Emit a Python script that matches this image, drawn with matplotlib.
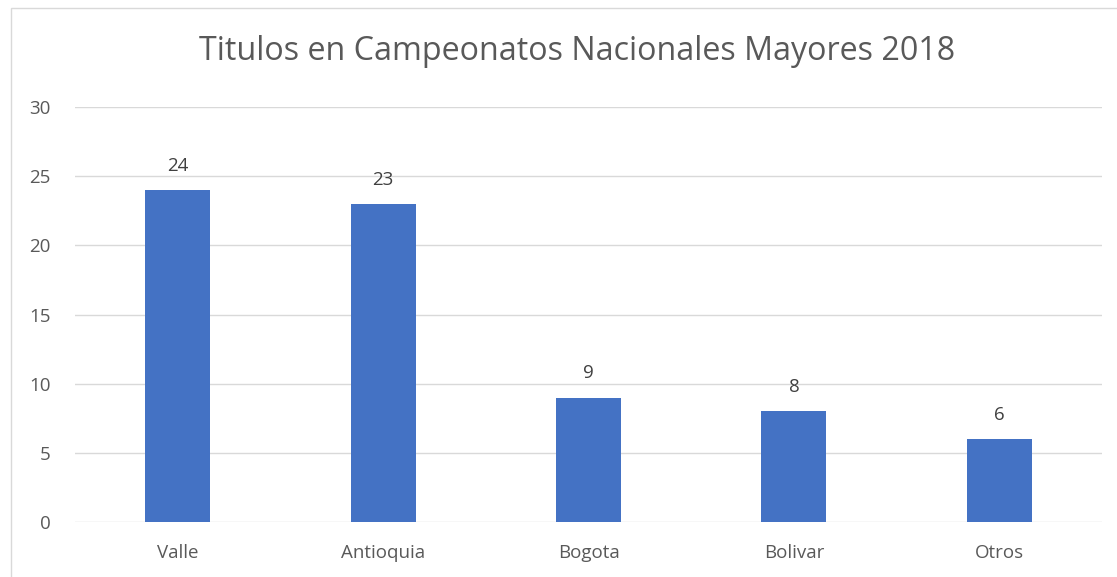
import matplotlib
matplotlib.use("Agg")
import matplotlib.pyplot as plt
from matplotlib.patches import Rectangle

categories = ["Valle", "Antioquia", "Bogota", "Bolivar", "Otros"]
values = [24, 23, 9, 8, 6]
yticks = [0, 5, 10, 15, 20, 25, 30]
title = "Titulos en Campeonatos Nacionales Mayores 2018"

W, H = 1117, 577
plt.rcParams['font.family'] = ['Open Sans', 'DejaVu Sans']
fig = plt.figure(figsize=(W / 100, H / 100), dpi=100)
fig.patch.set_facecolor("white")

# chart border
fig.patches.append(Rectangle((11 / W, -0.05), 1.2, 1 - 8 / H + 0.05, transform=fig.transFigure,
                             fill=False, edgecolor="#D9D9D9", linewidth=1.0))

ax = fig.add_axes([75 / W, 55 / H, (1102 - 75) / W, (470 - 55) / H])
x = range(len(categories))
bars = ax.bar(x, values, width=0.317, color="#4472C4", zorder=3)
ax.set_xlim(-0.5, len(categories) - 0.5)
ax.set_ylim(0, 30)
ax.set_yticks(yticks)
ax.set_xticks(list(x))
ax.set_xticklabels(categories)
ax.grid(axis="y", color="#D9D9D9", linewidth=1.0, zorder=0)
for s in ax.spines.values():
    s.set_visible(False)
ax.tick_params(axis="both", length=0, labelsize=13.5, labelcolor="#595959")
ax.tick_params(axis="x", pad=16)
ax.tick_params(axis="y", pad=17.5)
for lbl in ax.get_yticklabels():
    lbl.set_horizontalalignment("right")

for b, v in zip(bars, values):
    ax.annotate(str(v), (b.get_x() + b.get_width() / 2, v), xytext=(0, 11),
                textcoords="offset points", ha="center", va="bottom",
                fontsize=13.5, color="#404040")

fig.text(0.5 * (197 + 958) / W, 1 - 52 / H, title, ha="center", va="center",
         fontsize=23.2, color="#595959")

fig.savefig("out.png", dpi=100, facecolor="white")
